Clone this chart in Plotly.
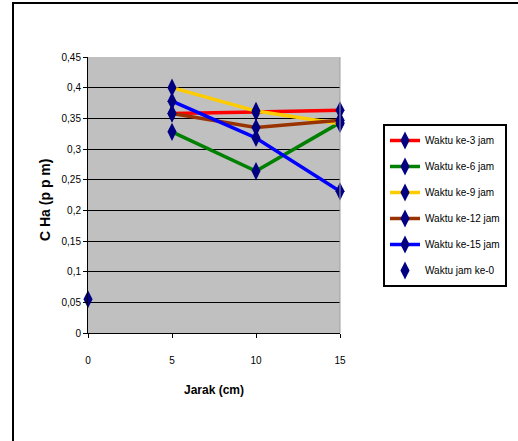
import plotly.graph_objects as go

jarak = [5, 10, 15]
ke3 = [0.358, 0.360, 0.363]
ke6 = [0.328, 0.264, 0.343]
ke9 = [0.400, 0.362, 0.341]
ke12 = [0.358, 0.335, 0.347]
ke15 = [0.378, 0.318, 0.231]
jarak0 = [0]
ke0 = [0.055]

names = ["Waktu ke-3 jam", "Waktu ke-6 jam", "Waktu ke-9 jam",
         "Waktu ke-12 jam", "Waktu ke-15 jam"]
series = [ke3, ke6, ke9, ke12, ke15]
colors = ["#FF0000", "#008000", "#FFCC00", "#993300", "#0000FF"]
ytick_vals = [0, 0.05, 0.1, 0.15, 0.2, 0.25, 0.3, 0.35, 0.4, 0.45]
ytick_text = ["0", "0,05", "0,1", "0,15", "0,2", "0,25", "0,3", "0,35", "0,4", "0,45"]
xtick_vals = [0, 5, 10, 15]

W, H = 518, 441
L, R, T, B = 88, 178, 57, 108
pw, ph = W - L - R, H - T - B

FONT = "Liberation Sans Narrow, Arial Narrow, Liberation Sans, Arial, sans-serif"
MARK = dict(symbol="diamond-tall", size=13, color="#000080")

fig = go.Figure()
for i, (nm, ys, c) in enumerate(zip(names, series, colors)):
    fig.add_trace(go.Scatter(
        x=jarak, y=ys, name=nm, mode="lines+markers",
        line=dict(color=c, width=3.5), marker=MARK,
        legendgroup=f"g{i}", cliponaxis=False))
fig.add_trace(go.Scatter(
    x=jarak0, y=ke0, name="Waktu jam ke-0", mode="markers",
    marker=MARK, legendgroup="g5", cliponaxis=False))

def px_x(p):
    return (p - L) / pw

def px_y(p):
    return (H - B - p) / ph

NB = "\u00a0"
fig.update_layout(
    width=W, height=H,
    margin=dict(l=L, r=R, t=T, b=B, pad=0, autoexpand=False),
    paper_bgcolor="white", plot_bgcolor="#C0C0C0",
    font=dict(family=FONT, size=10, color="black"),
    showlegend=True,
    legend=dict(
        x=px_x(383), y=px_y(124), xanchor="left", yanchor="top",
        bordercolor="black", borderwidth=2, bgcolor="white",
        font=dict(family=FONT, size=10, color="black"),
        tracegroupgap=7, itemwidth=30, traceorder="grouped",
    ),
    xaxis=dict(
        range=[0, 15], tickvals=xtick_vals, showgrid=False, zeroline=False,
        showline=True, linecolor="black", linewidth=1,
        ticks="outside", ticklen=4, tickcolor="black",
        ticklabelstandoff=14,
        title=dict(text="<b>Jarak (cm)</b>", font=dict(family=FONT, size=12), standoff=20),
    ),
    yaxis=dict(
        range=[0, 0.45], tickvals=ytick_vals, ticktext=ytick_text,
        showgrid=True, gridcolor="black", gridwidth=1, zeroline=False,
        showline=True, linecolor="black", linewidth=1,
        ticks="outside", ticklen=4, tickcolor="black",
        mirror=False,
    ),
    annotations=[dict(
        text="<b>C" + NB + "Ha" + NB + "(p" + NB + "p" + NB + "m)</b>",
        textangle=-90, showarrow=False,
        xref="paper", yref="paper", x=px_x(45), y=px_y(200),
        xanchor="center", yanchor="middle",
        font=dict(family="Liberation Sans, Arial, sans-serif", size=14, color="black"),
    )],
    shapes=[
        dict(type="line", xref="paper", yref="paper",
             x0=px_x(12), x1=px_x(518), y0=px_y(3), y1=px_y(3),
             line=dict(color="black", width=2), layer="below"),
        dict(type="line", xref="paper", yref="paper",
             x0=px_x(13), x1=px_x(13), y0=px_y(2), y1=px_y(441),
             line=dict(color="black", width=2), layer="below"),
        dict(type="line", xref="paper", yref="paper",
             x0=1, x1=1, y0=0, y1=1, line=dict(color="#A0A0A0", width=1)),
    ],
)

fig.write_html("out.html")
